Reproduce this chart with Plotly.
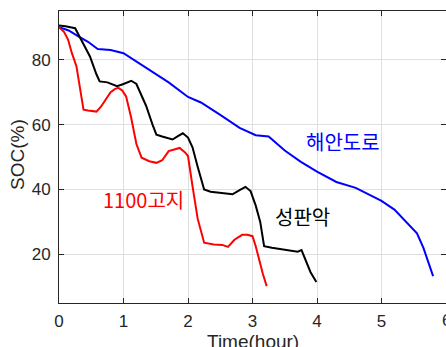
import plotly.graph_objects as go

# 해안도로 (blue)
t_coast = [0, 0.15, 0.3, 0.45, 0.6, 0.8, 1.0, 1.2, 1.4, 1.7, 2.0, 2.2, 2.5, 2.8, 3.05, 3.25,
           3.5, 3.75, 4.0, 4.3, 4.6, 4.8, 5.0, 5.2, 5.4, 5.55, 5.65, 5.75, 5.8]
soc_coast = [90, 89, 87.2, 85.5, 83.3, 83, 82, 79.5, 77, 73, 68.5, 66.8, 63, 59, 56.7, 56.3,
             52, 48.5, 45.5, 42.3, 40.5, 38.5, 36.5, 33.8, 29.8, 26.5, 22, 16.5, 13.3]

# 성판악 (black)
t_seong = [0, 0.1, 0.25, 0.35, 0.48, 0.58, 0.63, 0.75, 0.9, 1.0, 1.12, 1.2, 1.35, 1.45, 1.51,
           1.6, 1.76, 1.85, 1.92, 2.0, 2.07, 2.15, 2.25, 2.35, 2.5, 2.69, 2.8, 2.89, 2.97, 3.05,
           3.12, 3.18, 3.3, 3.5, 3.7, 3.76, 3.82, 3.9, 3.99]
soc_seong = [90.5, 90.3, 89.7, 86, 81, 75.5, 73.3, 73, 71.8, 72.5, 73.5, 72.5, 65.8, 60, 56.9,
             56.3, 55.4, 56.5, 57.3, 56, 53, 47, 40, 39.3, 39, 38.5, 39.8, 40.8, 39.5, 35,
             30, 22.5, 22, 21.5, 20.8, 21.3, 18.5, 14.5, 11.5]

# 1100고지 (red)
t_1100 = [0, 0.08, 0.14, 0.2, 0.27, 0.33, 0.38, 0.45, 0.58, 0.65, 0.72, 0.8, 0.87, 0.92, 0.98,
          1.04, 1.12, 1.2, 1.28, 1.4, 1.51, 1.6, 1.7, 1.8, 1.87, 1.95, 2.0, 2.07, 2.15, 2.25,
          2.4, 2.53, 2.62, 2.72, 2.84, 2.92, 3.0, 3.05, 3.1, 3.16, 3.22]
soc_1100 = [90, 88.5, 86.2, 82, 78, 70, 64.6, 64.3, 64, 65.5, 67.7, 70, 71, 71.3, 70.5,
            68.7, 62, 54, 49.8, 48.7, 48.2, 49, 51.8, 52.5, 52.8, 51.5, 50.3, 41, 31, 23.6,
            23, 22.9, 22.3, 24.5, 26, 26, 25.6, 22.5, 18.5, 14, 10.2]

x_ticks = [0, 1, 2, 3, 4, 5, 6]
y_ticks = [20, 40, 60, 80]

labels = ["해안도로", "성판악", "1100고지"]
label_x = [4.40, 3.77, 1.31]
label_y = [54.8, 31.8, 36.9]
colors = ["#0000ff", "#000000", "#ff0000"]

fig = go.Figure()
for tx, sy, c in [(t_coast, soc_coast, colors[0]), (t_seong, soc_seong, colors[1]), (t_1100, soc_1100, colors[2])]:
    fig.add_trace(go.Scatter(x=tx, y=sy, mode="lines", line=dict(color=c, width=2), showlegend=False))

tick_font = dict(family="Liberation Sans, Arial", size=17, color="#262626")
axis_common = dict(
    showline=True, linecolor="#262626", linewidth=1, mirror="ticks",
    ticks="inside", ticklen=5, tickcolor="#262626", tickwidth=1,
    showgrid=True, gridcolor="#dfdfdf", gridwidth=1, zeroline=False,
    tickfont=tick_font,
)
fig.update_xaxes(range=[0, 6], tickvals=x_ticks, ticktext=[str(v) for v in x_ticks],
                 ticklabelstandoff=3, **axis_common)
fig.update_yaxes(range=[5, 95], tickvals=y_ticks, ticktext=[str(v) for v in y_ticks],
                 ticklabelstandoff=4, **axis_common)

annots = []
for txt, x, y, c in zip(labels, label_x, label_y, colors):
    annots.append(dict(text=txt, x=x, y=y, xref="x", yref="y", showarrow=False,
                       font=dict(family="Noto Sans CJK KR", size=20, color=c)))
# last x tick label, partly beyond the right edge as in the reference
annots.append(dict(text=str(x_ticks[-1]), x=x_ticks[-1], y=0, xref="x", yref="paper",
                   yanchor="middle", yshift=-17, showarrow=False, font=tick_font))
annots.append(dict(text="Time(hour)", x=0.5, y=0, xref="paper", yref="paper", yanchor="middle",
                   yshift=-38, showarrow=False,
                   font=dict(family="Liberation Sans, Arial", size=19, color="#262626")))
annots.append(dict(text="SOC(%)", x=0, y=0.507, xref="paper", yref="paper", xanchor="center",
                   xshift=-41, textangle=-90, showarrow=False,
                   font=dict(family="Liberation Sans, Arial", size=19, color="#262626")))

fig.update_layout(width=446, height=347, margin=dict(l=59, r=0, t=11, b=44),
                  plot_bgcolor="white", paper_bgcolor="white", annotations=annots)

fig.write_html("out.html")
